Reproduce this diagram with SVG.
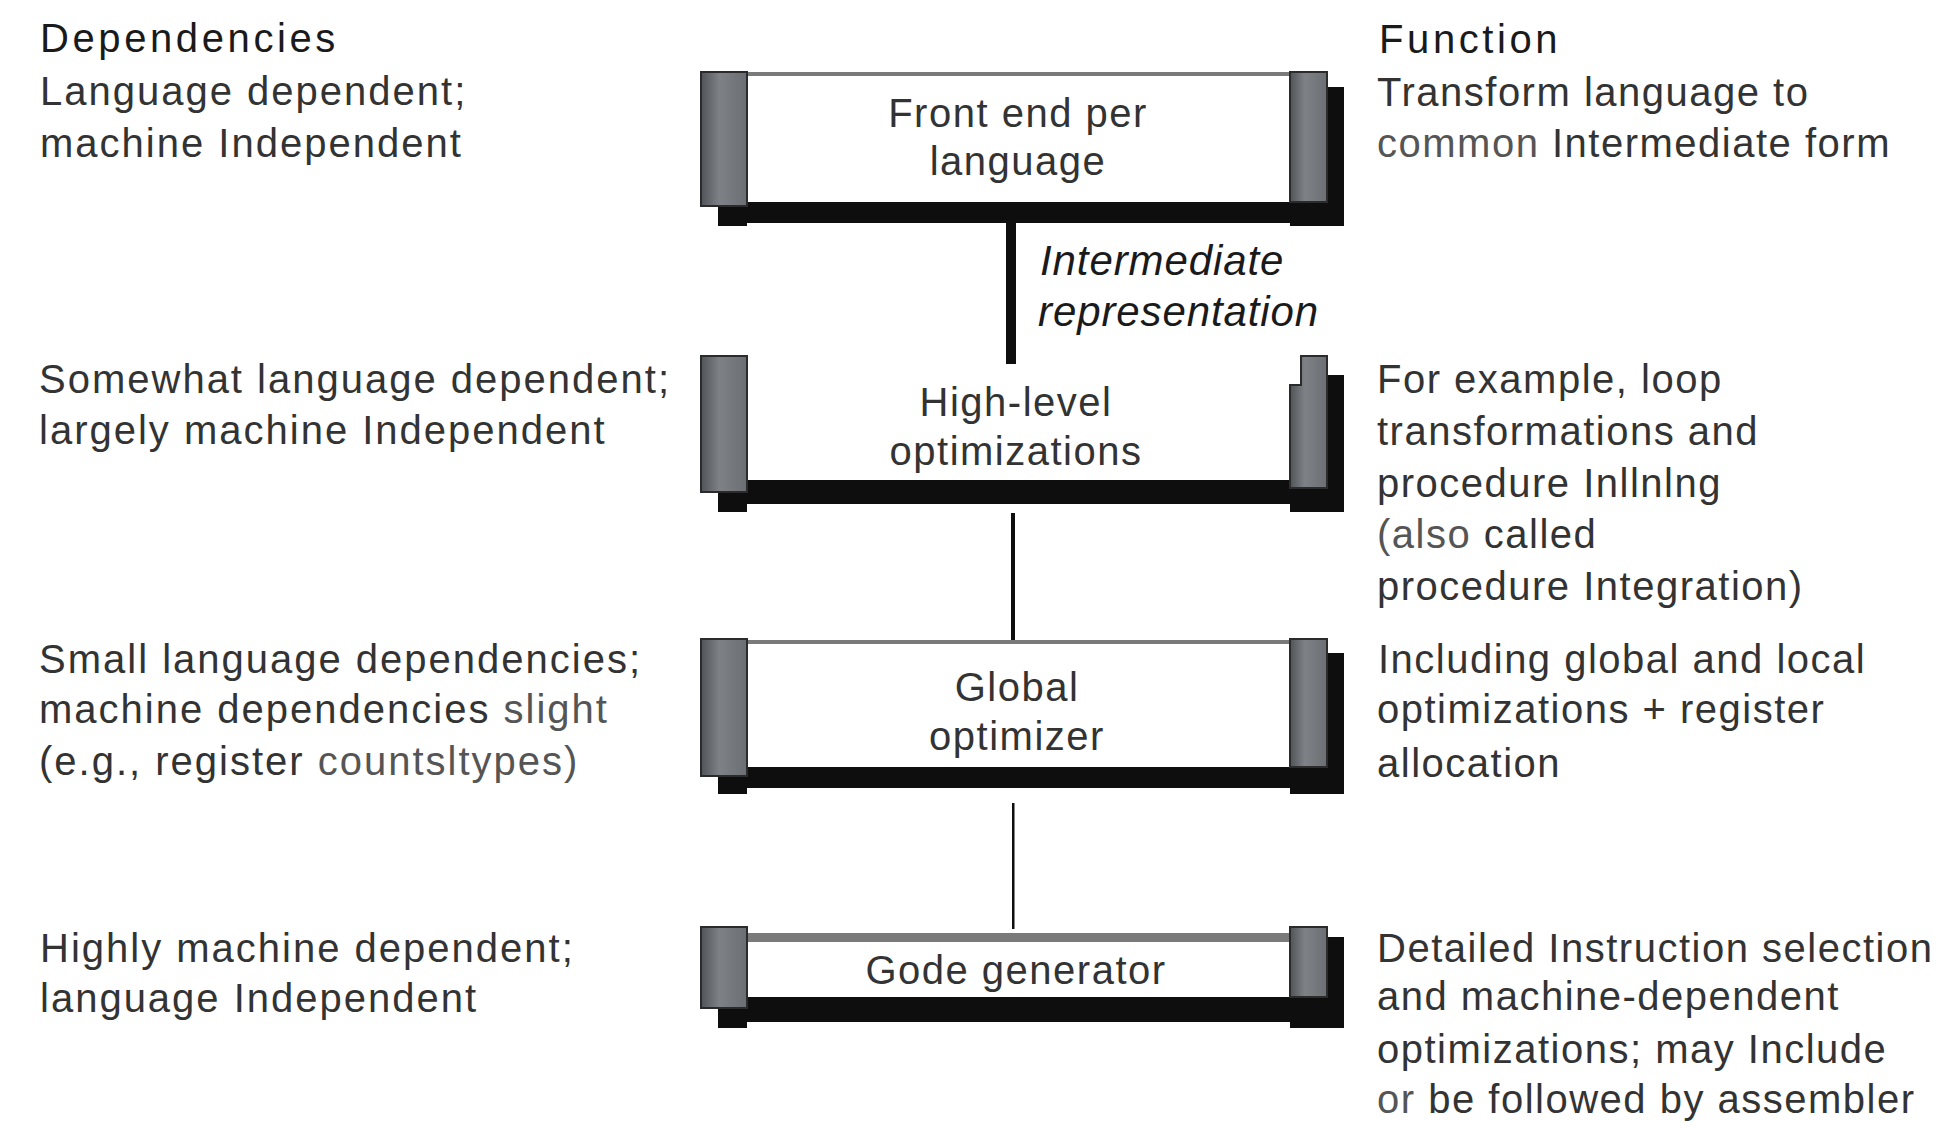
<svg xmlns="http://www.w3.org/2000/svg" width="1943" height="1123" viewBox="0 0 1943 1123">
<defs>
<linearGradient id="blkg" x1="0" x2="1" y1="0" y2="0">
<stop offset="0" stop-color="#505358"/>
<stop offset="0.4" stop-color="#7e8186"/>
<stop offset="1" stop-color="#6b6e73"/>
</linearGradient>
</defs>
<style>
.t{font-family:"Liberation Sans",Arial,sans-serif;font-size:40px;fill:#333;letter-spacing:1.5px}
.l{letter-spacing:2px}
.h{letter-spacing:3.6px;fill:#1a1a1a}
.c{text-anchor:middle}
.i{font-family:"Liberation Sans",Arial,sans-serif;font-style:italic;font-size:42px;letter-spacing:0.9px;fill:#1a1a1a}
.lt{fill:#555}
.blk{fill:url(#blkg);stroke:#2b2b2b;stroke-width:2}
.sh{fill:#0e0e0e}
.top{fill:#7a7a7a}
.wire{fill:#0e0e0e}
</style>
<rect width="1943" height="1123" fill="#fff"/>

<g id="connectors">
<rect class="wire" x="1006" y="223" width="10" height="141"/>
<rect class="wire" x="1011" y="513" width="4" height="128"/>
<rect class="wire" x="1012" y="803" width="2.5" height="126"/>
</g>

<g id="front-end">
<rect class="sh" x="718" y="204" width="29" height="22"/>
<rect class="sh" x="747" y="202" width="543" height="21"/>
<rect class="sh" x="1290" y="202" width="54" height="24"/>
<rect class="sh" x="1327" y="87" width="17" height="139"/>
<rect class="top" x="747" y="72" width="543" height="4"/>
<rect class="blk" x="701" y="72" width="46" height="134"/>
<rect class="blk" x="1290" y="72" width="37" height="130"/>
<text class="t c" x="1018" y="127">Front end per</text>
<text class="t c" x="1018" y="175">language</text>
</g>

<g id="ir-label">
<text class="i" x="1040" y="275">Intermediate</text>
<text class="i" x="1038" y="326">representation</text>
</g>

<g id="high-level">
<rect class="sh" x="718" y="490" width="29" height="22"/>
<rect class="sh" x="747" y="480" width="543" height="24"/>
<rect class="sh" x="1290" y="488" width="54" height="24"/>
<rect class="sh" x="1327" y="375" width="17" height="137"/>
<rect class="blk" x="701" y="356" width="46" height="136"/>
<path class="blk" d="M1301,356 H1327 V488 H1290 V385 H1301 Z"/>
<text class="t c" x="1016" y="416">High-level</text>
<text class="t c" x="1016" y="465">optimizations</text>
</g>

<g id="global-optimizer">
<rect class="sh" x="718" y="774" width="29" height="20"/>
<rect class="sh" x="747" y="767" width="543" height="21"/>
<rect class="sh" x="1290" y="767" width="54" height="27"/>
<rect class="sh" x="1327" y="653" width="17" height="141"/>
<rect class="top" x="747" y="640" width="543" height="4"/>
<rect class="blk" x="701" y="639" width="46" height="137"/>
<rect class="blk" x="1290" y="639" width="37" height="128"/>
<text class="t c" x="1017" y="701">Global</text>
<text class="t c" x="1017" y="750">optimizer</text>
</g>

<g id="code-generator">
<rect class="sh" x="718" y="1006" width="29" height="22"/>
<rect class="sh" x="747" y="997" width="543" height="25"/>
<rect class="sh" x="1290" y="997" width="54" height="31"/>
<rect class="sh" x="1327" y="937" width="17" height="91"/>
<rect class="top" x="747" y="933" width="543" height="9"/>
<rect class="blk" x="701" y="927" width="46" height="81"/>
<rect class="blk" x="1290" y="927" width="37" height="70"/>
<text class="t c" x="1016" y="984">Gode generator</text>
</g>

<g id="dependencies">
<text class="t h" x="40" y="52">Dependencies</text>
<text class="t l" x="40" y="105">Language dependent;</text>
<text class="t l" x="40" y="157">machine Independent</text>
<text class="t l" x="39" y="393">Somewhat language dependent;</text>
<text class="t l" x="39" y="444">largely machine Independent</text>
<text class="t l" x="39" y="673">Small language dependencies;</text>
<text class="t l" x="39" y="723">machine dependencies <tspan class="lt">slight</tspan></text>
<text class="t l" x="39" y="775">(e.g., register <tspan class="lt">countsltypes)</tspan></text>
<text class="t l" x="40" y="962">Highly machine dependent;</text>
<text class="t l" x="40" y="1012">language Independent</text>
</g>

<g id="function">
<text class="t h" x="1379" y="53">Function</text>
<text class="t" x="1377" y="106">Transform language to</text>
<text class="t" x="1377" y="157"><tspan class="lt">common</tspan> Intermediate form</text>
<text class="t" x="1377" y="393">For example, loop</text>
<text class="t" x="1377" y="445">transformations and</text>
<text class="t" x="1377" y="497">procedure Inllnlng</text>
<text class="t" x="1377" y="548"><tspan class="lt">(also</tspan> called</text>
<text class="t" x="1377" y="600">procedure Integration)</text>
<text class="t" x="1378" y="673">Including global and local</text>
<text class="t" x="1377" y="723">optimizations + register</text>
<text class="t" x="1377" y="777">allocation</text>
<text class="t" x="1377" y="962">Detailed Instruction selection</text>
<text class="t" x="1377" y="1010">and machine-dependent</text>
<text class="t" x="1377" y="1063">optimizations; may Include</text>
<text class="t" x="1377" y="1113"><tspan class="lt">or</tspan> be followed by assembler</text>
</g>
</svg>
